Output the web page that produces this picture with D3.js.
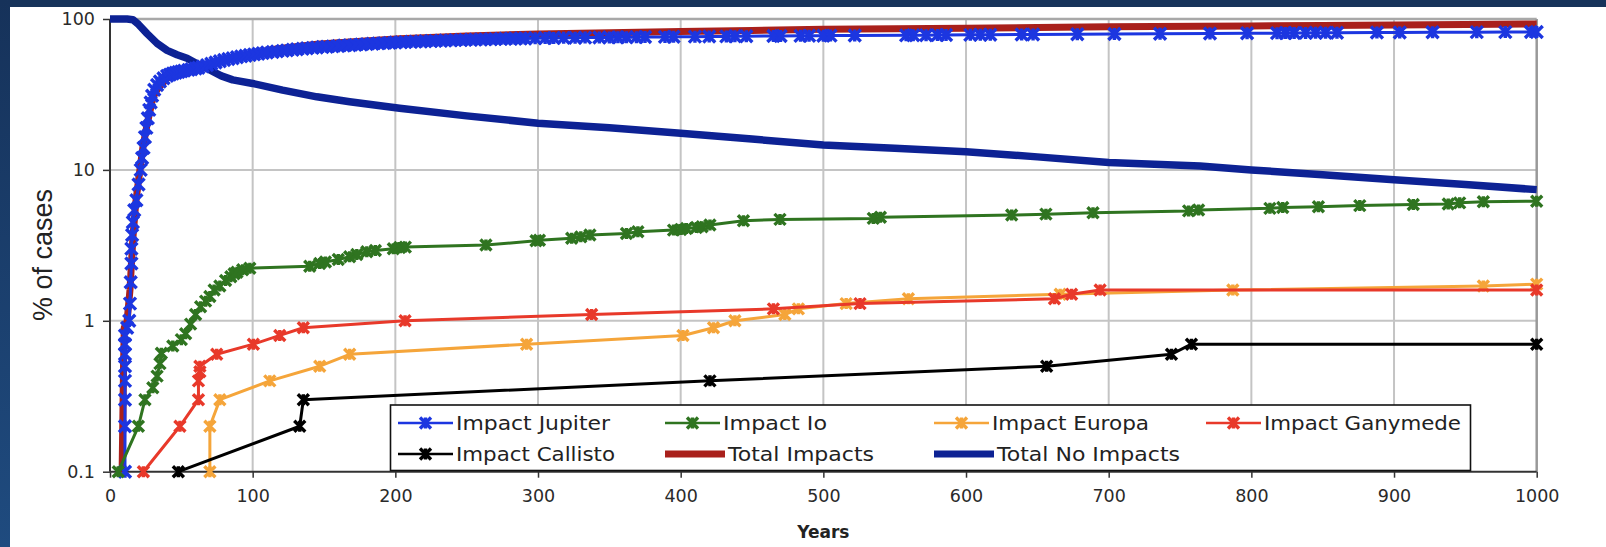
<!DOCTYPE html>
<html><head><meta charset="utf-8">
<script src="https://cdn.jsdelivr.net/npm/d3@7"></script>
<style>html,body{margin:0;padding:0;background:#fff;overflow:hidden}</style>
</head><body>
<svg id="c" width="1606" height="547"></svg>
<script>
// ---------- DATA ----------
const xTickValues = [0,100,200,300,400,500,600,700,800,900,1000];
const yTickValues = [0.1,1,10,100];
const yTickLabels = ["0.1","1","10","100"];
const seriesNames = ["Impact Jupiter","Impact Io","Impact Europa","Impact Ganymede","Impact Callisto","Total Impacts","Total No Impacts"];

const impactJupiter = [[10.5,0.1],[10.5,0.2],[10.5,0.3],[10.5,0.4],[10.5,0.5],[10.5,0.6],[10.5,0.7],[10.5,0.8],
 [12,0.9],[13.5,1.0],[14,1.3],[14.5,1.8],[15,2.4],[15,3.0],[15.5,3.7],[16,4.5],[17,5.4],[18.5,6.3],[20,8],[21.5,10],
 [22.5,12],[23.5,14],[24.5,16.5],[25.5,19],[26.5,22],[27.5,25],[28.5,28],[29.5,31],[31,34],[33,36.5],[35,38.5],
 [37.5,40.5],[40,42],[42,42.8],[44,43.5],[46,44],[48,44.5],[50,45],[52,45.5],[55,46],[57,46.5],[60,47],[62,47.5],
 [65,48.5],[68,49.5],[71,50.5],[74,51.5],[77,52.5],[80,53.5],[83,54.3],[86,55],[89,55.8],[92,56.5],[95,57.1],
 [98,57.7],[101,58.3],[104,58.8],[107,59.4],[110,60],[114,60.5],[117,61],[121,61.5],[124,62],[128,62.5],[131,63],
 [135,63.5],[138,64],[142,64.4],[145,64.8],[149,65.2],[152,65.5],[156,65.9],[160,66.3],[164,66.7],[168,67],
 [172,67.4],[176,67.8],[180,68.2],[184,68.5],[188,68.9],[192,69.2],[196,69.5],[200,69.8],[204,70.1],[207,70.3],
 [211,70.6],[214,70.8],[218,71],[221,71.2],[225,71.4],[228,71.6],[232,71.8],[235,72],[239,72.2],[242,72.4],
 [246,72.6],[249,72.7],[253,72.9],[256,73],[260,73.2],[263,73.3],[267,73.5],[270,73.6],[274,73.8],[277,73.9],
 [281,74],[284,74.1],[288,74.2],[291,74.3],[298,74.5],[305,74.7],[311,74.8],
 [318,75],[326,75.1],[333,75.3],[343,75.4],[350,75.5],[356,75.6],[362,75.7],[369,75.8],[375,75.9],[389,76.1],
 [395,76.2],[410,76.4],[420,76.5],[432,76.7],[438,76.8],[446,76.9],[465,77.1],[470,77.2],[484,77.3],[490,77.4],
 [500,77.5],[505,77.6],[522,77.7],[558,77.9],[563,78],[572,78.1],[580,78.2],[586,78.3],[603,78.5],[610,78.6],
 [617,78.7],[639,78.9],[647,79],[678,79.3],[704,79.6],[736,79.9],[771,80.2],[797,80.4],[818,80.6],[824,80.7],
 [830,80.8],[838,80.9],[845,81],[852,81],[860,81.1],[888,81.3],[904,81.4],[927,81.6],[958,81.8],[978,81.9],[996,82],[1000,82]];

const impactIo = [[5.8,0.1],[19.9,0.2],[24.5,0.3],[30,0.36],[33,0.43],[35,0.52],[36,0.61],[44,0.68],[50,0.75],
 [53,0.82],[56.5,0.95],[60,1.1],[63.5,1.24],[67,1.35],[70,1.45],[73,1.6],[77,1.7],[81,1.85],[84.7,1.96],[87,2.05],
 [89,2.1],[93,2.18],[98,2.23],[140,2.3],[147,2.4],[151,2.45],[160,2.55],[168,2.66],[173,2.75],[180,2.87],[186,2.92],
 [198.6,3.0],[203,3.06],[207,3.08],[263.5,3.18],[298.6,3.39],[301,3.42],[323.6,3.52],[330,3.6],[336.4,3.7],
 [362,3.79],[370,3.89],[395,3.99],[400,4.03],[404,4.09],[411,4.15],[415,4.2],[420.5,4.31],[444,4.6],[469.6,4.7],
 [535,4.77],[540,4.85],[632,5.02],[656,5.09],[689,5.2],[756,5.35],[763,5.42],[813,5.56],[822,5.64],[847,5.7],
 [876,5.8],[913.5,5.9],[938,5.95],[946,6.05],[962.6,6.15],[1000,6.2]];

const impactEuropa = [[70,0.1],[70,0.2],[77,0.3],[112,0.4],[147,0.5],[168,0.6],[292,0.7],[401.6,0.8],[423,0.9],
 [438,1.0],[473,1.1],[482.5,1.2],[516,1.3],[559.6,1.4],[666,1.5],[787,1.6],[962.6,1.7],[1000,1.75]];

const impactGanymede = [[23.4,0.1],[49,0.2],[62,0.3],[62,0.4],[63,0.46],[63,0.5],[74.8,0.6],[100.5,0.7],[119,0.8],
 [135.5,0.9],[206.8,1.0],[337.6,1.1],[465,1.2],[525.7,1.3],[662,1.4],[674,1.5],[694,1.6],[1000,1.6]];

const impactCallisto = [[47.9,0.1],[133,0.2],[135.5,0.3],[420.5,0.4],[656.5,0.5],[744,0.6],[758,0.7],[1000,0.7]];

const totalImpacts = [[8.5,0.1],[9.5,0.5],[10,0.9],[12,1.0],[14,1.6],[16,3.5],[18,6],[20,8.5],[23,14],[26,20],
 [30,30],[33,34],[40,40.5],[47,43.5],[54,45.5],[62,48],[68,50],[78,53.5],[86,55.8],[100,59],[113,62.5],[121,64],
 [145,68],[168,70.5],[203,74],[250,77.2],[300,79.6],[350,81],[400,82.5],[450,84],[500,85.4],[550,86.1],[600,86.8],
 [650,87.8],[700,88.8],[764,89.4],[800,90],[850,90.7],[900,91.4],[950,92],[1000,92.6]];

const totalNoImpacts = [[0,100],[12,100],[16,99],[20,92],[26,80],[33,69],[40,62],[47,58],[54,55],[62,50],[68,47],
 [78,42],[86,39.5],[100,37.4],[121,33.8],[145,30.5],[168,28.3],[203,25.6],[250,22.8],[300,20.4],[350,19],
 [400,17.5],[450,16],[500,14.6],[550,13.9],[600,13.2],[650,12.2],[700,11.2],[764,10.6],[800,10],[850,9.3],
 [900,8.6],[950,8],[1000,7.4]];

// ---------- LAYOUT / STYLE ----------
const W = 1606, H = 547;
const plot = {left:110, right:1536.7, top:19, bottom:471.7};
const colors = {
  "Impact Jupiter":"#1c36e0","Impact Io":"#2f7420","Impact Europa":"#f5a53a","Impact Ganymede":"#e8392a",
  "Impact Callisto":"#000000","Total Impacts":"#a9201b","Total No Impacts":"#0d2294"
};
const svg = d3.select("#c");

const defs = svg.append("defs");
const grad = defs.append("linearGradient").attr("id","lg").attr("x1",0).attr("y1",0).attr("x2",0).attr("y2",1);
grad.append("stop").attr("offset","0%").attr("stop-color","#16325a");
grad.append("stop").attr("offset","100%").attr("stop-color","#1f4b7f");
svg.append("rect").attr("x",0).attr("y",0).attr("width",W).attr("height",H).attr("fill","#fff");
svg.append("rect").attr("x",0).attr("y",0).attr("width",W).attr("height",7).attr("fill","#17335a");
svg.append("rect").attr("x",0).attr("y",0).attr("width",10).attr("height",H).attr("fill","url(#lg)");

const x = d3.scaleLinear().domain([0,1000]).range([plot.left, plot.right]);
const y = d3.scaleLog().domain([0.1,100]).range([plot.bottom, plot.top]);

const g = svg.append("g");
g.selectAll("line.vg").data(xTickValues.slice(1,-1)).join("line")
  .attr("x1",d=>x(d)).attr("x2",d=>x(d)).attr("y1",plot.top).attr("y2",plot.bottom)
  .attr("stroke","#c4c4c4").attr("stroke-width",2);
g.selectAll("line.hg").data([1,10]).join("line")
  .attr("x1",plot.left).attr("x2",plot.right).attr("y1",d=>y(d)).attr("y2",d=>y(d))
  .attr("stroke","#c4c4c4").attr("stroke-width",2);
g.append("line").attr("x1",plot.left).attr("x2",plot.right).attr("y1",y(100)).attr("y2",y(100)).attr("stroke","#a8a8a8").attr("stroke-width",2.5);
g.append("line").attr("x1",x(1000)).attr("x2",x(1000)).attr("y1",plot.top).attr("y2",plot.bottom).attr("stroke","#999").attr("stroke-width",2.5);

const xAxis = d3.axisBottom(x).tickValues(xTickValues).tickSize(6).tickPadding(12).tickFormat(d3.format("d"));
const yAxis = d3.axisLeft(y).tickValues(yTickValues).tickSize(7).tickPadding(8).tickFormat((d,i)=>yTickLabels[i]);
const gx = svg.append("g").attr("transform",`translate(0,${plot.bottom})`).call(xAxis);
const gy = svg.append("g").attr("transform",`translate(${plot.left},0)`).call(yAxis);
[gx,gy].forEach(a=>{
  a.select(".domain").attr("stroke","#333").attr("stroke-width",2);
  a.selectAll(".tick line").attr("stroke","#333").attr("stroke-width",1.5);
  a.selectAll(".tick text").attr("fill","#2a2a2a").style("font-family","'DejaVu Sans', Verdana, sans-serif").style("font-size","17.5px");
});
gy.select(".domain").attr("d",`M0,${plot.bottom}V${plot.top}`);
gx.select(".domain").attr("d",`M${plot.left},0H${plot.right}`);

svg.append("text").attr("transform","translate(52,255) rotate(-90)").attr("text-anchor","middle")
  .style("font-family","'Liberation Sans', Arial, sans-serif").style("font-size","27px").attr("fill","#222").text("% of cases");
svg.append("text").attr("x",(plot.left+plot.right)/2).attr("y",538).attr("text-anchor","middle")
  .style("font-family","'DejaVu Sans', Verdana, sans-serif").style("font-size","17px").style("font-weight","bold").attr("fill","#222").text("Years");

const line = d3.line().x(d=>x(d[0])).y(d=>y(d[1]));
const markerPath = s => `M${-s},${-s}L${s},${s}M${-s},${s}L${s},${-s}M0,${-s}V${s}`;
const lines = svg.append("g");
function drawThick(data, name, w){
  lines.append("path").datum(data).attr("d",line).attr("fill","none").attr("stroke",colors[name])
    .attr("stroke-width",w).attr("stroke-linejoin","round").attr("stroke-linecap","butt");
}
function drawMarked(data, name, w, s){
  lines.append("path").datum(data).attr("d",line).attr("fill","none").attr("stroke",colors[name])
    .attr("stroke-width",w).attr("stroke-linejoin","round");
  lines.append("g").selectAll("path").data(data).join("path")
    .attr("transform",d=>`translate(${x(d[0])},${y(d[1])})`)
    .attr("d",markerPath(s)).attr("fill","none").attr("stroke",colors[name]).attr("stroke-width",3.4);
}
drawThick(totalImpacts,"Total Impacts",7);
drawThick(totalNoImpacts,"Total No Impacts",7.5);
drawMarked(impactJupiter,"Impact Jupiter",3,6);
drawMarked(impactIo,"Impact Io",3,5.5);
drawMarked(impactEuropa,"Impact Europa",3,5.5);
drawMarked(impactGanymede,"Impact Ganymede",3,5.5);
drawMarked(impactCallisto,"Impact Callisto",3,5.5);

const leg = svg.append("g");
leg.append("rect").attr("x",390.5).attr("y",405).attr("width",1080).attr("height",65.5)
  .attr("fill","#fff").attr("stroke","#111").attr("stroke-width",1.6);
const legendCols = [398,665,934,1206];
const legendRows = [423,454];
const legendTextWidths = {"Impact Jupiter":154,"Impact Io":104,"Impact Europa":157,"Impact Ganymede":197,
  "Impact Callisto":159,"Total Impacts":146,"Total No Impacts":183};
seriesNames.forEach((name,i)=>{
  const cx = legendCols[i%4], cy = legendRows[Math.floor(i/4)];
  const isTotal = name.startsWith("Total");
  const lx2 = isTotal ? cx+60 : cx+55;
  leg.append("line").attr("x1",cx).attr("x2",lx2).attr("y1",cy).attr("y2",cy)
    .attr("stroke",colors[name]).attr("stroke-width",isTotal?7:2.5);
  if(!isTotal){
    leg.append("path").attr("transform",`translate(${(cx+lx2)/2},${cy})`).attr("d",markerPath(5.5))
      .attr("fill","none").attr("stroke",colors[name]).attr("stroke-width",3.4);
  }
  leg.append("text").attr("x",lx2+3).attr("y",cy).attr("dy","0.36em")
    .attr("textLength",legendTextWidths[name]).attr("lengthAdjust","spacingAndGlyphs")
    .style("font-family","'DejaVu Sans', Verdana, sans-serif").style("font-size","20px").attr("fill","#222").text(name);
});
</script>
</body></html>
